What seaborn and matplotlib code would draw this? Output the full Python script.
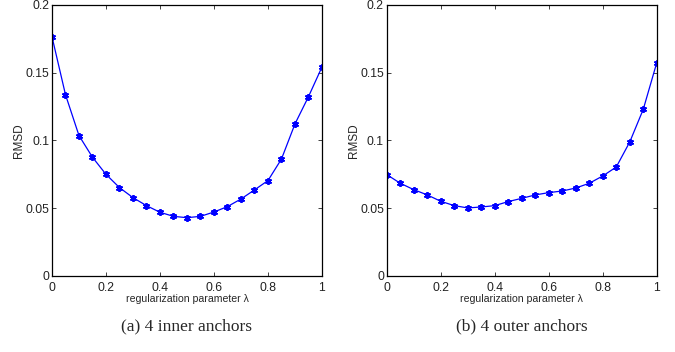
import numpy as np
import pandas as pd
import seaborn as sns
import matplotlib
matplotlib.use("Agg")
from matplotlib import pyplot as plt

lam = [0.0, 0.05, 0.1, 0.15, 0.2, 0.25, 0.3, 0.35, 0.4, 0.45, 0.5,
       0.55, 0.6, 0.65, 0.7, 0.75, 0.8, 0.85, 0.9, 0.95, 1.0]
rmsd_inner = [0.1766, 0.1338, 0.1036, 0.0876, 0.0750, 0.0652, 0.0578, 0.0519,
              0.0470, 0.0440, 0.0430, 0.0440, 0.0472, 0.0512, 0.0568, 0.0635,
              0.0704, 0.0863, 0.1122, 0.1323, 0.1542]
rmsd_outer = [0.0748, 0.0684, 0.0637, 0.0598, 0.0551, 0.0519, 0.0502, 0.0509,
              0.0519, 0.0549, 0.0573, 0.0598, 0.0615, 0.0627, 0.0649, 0.0684,
              0.0738, 0.0804, 0.0989, 0.1230, 0.1574]
captions = ["(a) 4 inner anchors", "(b) 4 outer anchors"]
xticks = [0, 0.2, 0.4, 0.6, 0.8, 1]
xticklabels = ["0", "0.2", "0.4", "0.6", "0.8", "1"]
yticks = [0, 0.05, 0.1, 0.15, 0.2]
yticklabels = ["0", "0.05", "0.1", "0.15", "0.2"]

sns.set_theme(style="ticks")
plt.rcParams['font.family'] = ['Liberation Sans', 'DejaVu Sans']

fig = plt.figure(figsize=(6.75, 3.52), dpi=100)
axes = [fig.add_axes([0.077, 0.216, 0.40, 0.770]),
        fig.add_axes([0.573, 0.216, 0.40, 0.770])]

for ax, vals, cap in zip(axes, [rmsd_inner, rmsd_outer], captions):
    df = pd.DataFrame({"lam": lam, "rmsd": vals})
    sns.lineplot(data=df, x="lam", y="rmsd", ax=ax, color="#0000ff",
                 linewidth=0.9, marker=(6, 2, 0), markersize=5,
                 markeredgewidth=1.3,
                 markeredgecolor="#0000ff", markerfacecolor="#0000ff")
    ax.set_xlim(0, 1)
    ax.set_ylim(0, 0.2)
    ax.set_xticks(xticks)
    ax.set_xticklabels(xticklabels)
    ax.set_yticks(yticks)
    ax.set_yticklabels(yticklabels)
    ax.tick_params(direction="in", top=True, right=True, length=3,
                   width=0.6, labelsize=8.8, colors="#222222")
    ax.tick_params(axis="x", pad=4)
    ax.tick_params(axis="y", pad=2)
    for s in ax.spines.values():
        s.set_linewidth(0.9)
        s.set_color("black")
    ax.set_xlabel("regularization parameter λ", fontsize=7.6, labelpad=0,
                  family=["Liberation Sans Narrow", "Liberation Sans"])
    ax.set_ylabel("RMSD", fontsize=8.5)
    ax.yaxis.set_label_coords(-0.10, 0.5)
    ax.text(0.5, -0.155, cap, transform=ax.transAxes, ha="center", va="top",
            fontsize=12.5, family=["Liberation Serif", "DejaVu Serif"])

fig.savefig("out.png", dpi=100)
